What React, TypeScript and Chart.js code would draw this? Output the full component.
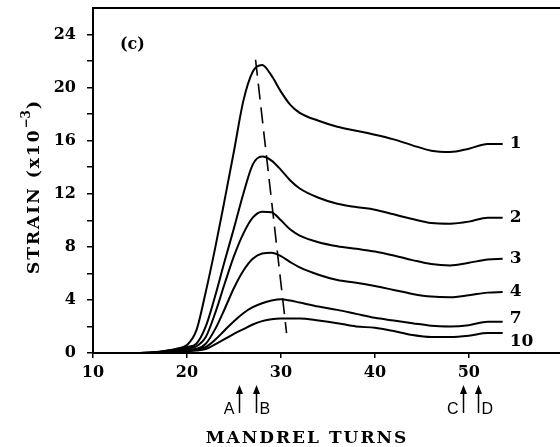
import { useEffect, useRef } from 'react';
import { Chart, registerables } from 'chart.js';

Chart.register(...registerables);

// Mandrel turns (x) sample grid shared by all curves
const TURNS = [10, 15, 17, 19, 20, 21, 22, 23, 24, 25, 26, 27, 28, 29, 30, 31, 32, 34, 36, 38, 40, 42, 44, 46, 48, 50, 52, 53.6];

// Strain (x10^-3) for each gauge position
const STRAIN_1 = [0, 0, 0.1, 0.35, 0.6, 1.7, 4.6, 7.9, 11.5, 15.2, 19.0, 21.2, 21.7, 20.9, 19.7, 18.7, 18.1, 17.5, 17.05, 16.75, 16.45, 16.1, 15.65, 15.25, 15.15, 15.4, 15.75, 15.75];
const STRAIN_2 = [0, 0, 0.08, 0.3, 0.45, 0.7, 2.0, 4.3, 6.9, 9.4, 12.0, 14.2, 14.8, 14.5, 13.8, 13.0, 12.4, 11.7, 11.25, 11.0, 10.8, 10.45, 10.1, 9.8, 9.75, 9.9, 10.2, 10.2];
const STRAIN_3 = [0, 0, 0.06, 0.25, 0.35, 0.5, 1.2, 3.0, 5.2, 7.3, 9.0, 10.2, 10.65, 10.6, 10.0, 9.3, 8.85, 8.35, 8.05, 7.85, 7.65, 7.35, 7.0, 6.7, 6.6, 6.8, 7.05, 7.1];
const STRAIN_4 = [0, 0, 0.05, 0.2, 0.25, 0.3, 0.7, 1.8, 3.3, 4.9, 6.2, 7.1, 7.5, 7.55, 7.3, 6.85, 6.45, 5.9, 5.5, 5.3, 5.05, 4.75, 4.45, 4.25, 4.2, 4.35, 4.55, 4.6];
const STRAIN_7 = [0, 0, 0.04, 0.15, 0.2, 0.25, 0.45, 1.0, 1.7, 2.4, 3.0, 3.45, 3.75, 3.95, 4.05, 3.95, 3.8, 3.5, 3.25, 2.95, 2.65, 2.45, 2.25, 2.05, 2.0, 2.1, 2.35, 2.35];
const STRAIN_10 = [0, 0, 0.03, 0.1, 0.15, 0.18, 0.3, 0.65, 1.05, 1.45, 1.8, 2.15, 2.4, 2.55, 2.6, 2.6, 2.6, 2.45, 2.25, 2.0, 1.9, 1.65, 1.35, 1.2, 1.2, 1.3, 1.5, 1.5];

const CURVES = [STRAIN_1, STRAIN_2, STRAIN_3, STRAIN_4, STRAIN_7, STRAIN_10];
const CURVE_LABELS = ['1', '2', '3', '4', '7', '10'];

// dashed line through peaks
const PEAK_LINE_X = [27.3, 30.6];
const PEAK_LINE_Y = [22.1, 1.5];

const X_TICKS = [10, 20, 30, 40, 50];
const Y_TICKS = [0, 2, 4, 6, 8, 10, 12, 14, 16, 18, 20, 22, 24];
const Y_TICK_LABELS = ['0', '', '4', '', '8', '', '12', '', '16', '', '20', '', '24'];

const MARKER_LABELS = ['A', 'B', 'C', 'D'];
const MARKER_TURNS = [25.5, 27.4, 49.4, 51.0];

const PANEL_LABEL = '(c)';
const X_TITLE = 'MANDREL TURNS';
const Y_TITLE = 'STRAIN (x10';
const Y_TITLE_SUP = '\u22123';

const SERIF = "'DejaVu Serif', serif";
const SANS = "'Liberation Sans', Arial, sans-serif";

const annotate = {
  id: 'annotate',
  afterDraw(chart: any) {
    const ctx = chart.ctx as CanvasRenderingContext2D;
    const area = chart.chartArea;
    const xs = chart.scales.x;
    const ys = chart.scales.y;
    ctx.save();
    // top frame line
    ctx.strokeStyle = '#000';
    ctx.lineWidth = 2;
    ctx.beginPath();
    ctx.moveTo(area.left, area.top);
    ctx.lineTo(area.right, area.top);
    ctx.stroke();

    // curve labels
    ctx.fillStyle = '#000';
    ctx.font = `bold 17px ${SERIF}`;
    ctx.textAlign = 'left';
    ctx.textBaseline = 'middle';
    const dy = [0, 0, 0, 0, -3, 8];
    CURVES.forEach((c, i) => {
      const px = xs.getPixelForValue(TURNS[TURNS.length - 1]);
      const py = ys.getPixelForValue(c[c.length - 1]);
      ctx.fillText(CURVE_LABELS[i], px + 7, py + dy[i]);
    });

    // panel label
    ctx.font = `bold 16px ${SERIF}`;
    ctx.fillText(PANEL_LABEL, area.left + 27, area.top + 37);

    // arrows
    const tipY = area.bottom + 32;
    const baseY = area.bottom + 60;
    MARKER_TURNS.forEach((t, i) => {
      const px = Math.round(xs.getPixelForValue(t)) + 0.5;
      ctx.lineWidth = 1.5;
      ctx.beginPath();
      ctx.moveTo(px, baseY);
      ctx.lineTo(px, tipY + 6);
      ctx.stroke();
      ctx.beginPath();
      ctx.moveTo(px, tipY);
      ctx.lineTo(px - 3.5, tipY + 9);
      ctx.lineTo(px + 3.5, tipY + 9);
      ctx.closePath();
      ctx.fill();
      ctx.font = `16px ${SANS}`;
      ctx.textBaseline = 'alphabetic';
      const left = i % 2 === 0;
      ctx.textAlign = left ? 'right' : 'left';
      ctx.fillText(MARKER_LABELS[i], left ? px - 5 : px + 3, baseY + 1);
    });

    // x title
    ctx.font = `bold 17px ${SERIF}`;
    (ctx as any).letterSpacing = '2px';
    ctx.textAlign = 'center';
    ctx.textBaseline = 'alphabetic';
    ctx.fillText(X_TITLE, 307, area.bottom + 90);

    // y title (rotated)
    ctx.save();
    ctx.translate(39, 187);
    ctx.rotate(-Math.PI / 2);
    (ctx as any).letterSpacing = '2px';
    ctx.font = `bold 17px ${SERIF}`;
    const w1 = ctx.measureText(Y_TITLE).width;
    ctx.font = `bold 12px ${SERIF}`;
    (ctx as any).letterSpacing = '0px';
    const wSup = ctx.measureText(Y_TITLE_SUP).width;
    ctx.font = `bold 17px ${SERIF}`;
    const wClose = ctx.measureText(')').width;
    const total = w1 + wSup + wClose + 2;
    const start = -total / 2;
    ctx.textAlign = 'left';
    (ctx as any).letterSpacing = '2px';
    ctx.fillText(Y_TITLE, start, 0);
    (ctx as any).letterSpacing = '0px';
    ctx.font = `bold 12px ${SERIF}`;
    ctx.fillText(Y_TITLE_SUP, start + w1, -9);
    ctx.font = `bold 17px ${SERIF}`;
    ctx.fillText(')', start + w1 + wSup + 1, 0);
    ctx.restore();

    ctx.restore();
  },
};

export default function App() {
  const ref = useRef<HTMLCanvasElement | null>(null);
  useEffect(() => {
    if (!ref.current) return;
    const datasets: any[] = CURVES.map((c, i) => ({
      label: CURVE_LABELS[i],
      data: TURNS.map((t, j) => ({ x: t, y: c[j] })),
      borderColor: '#000',
      borderWidth: 2,
      pointRadius: 0,
      cubicInterpolationMode: 'monotone',
      fill: false,
    }));
    datasets.push({
      label: 'peak',
      data: PEAK_LINE_X.map((x, j) => ({ x, y: PEAK_LINE_Y[j] })),
      borderColor: '#000',
      borderWidth: 1.6,
      borderDash: [16, 8],
      pointRadius: 0,
      fill: false,
    });
    const chart = new Chart(ref.current, {
      type: 'line',
      data: { datasets },
      plugins: [annotate],
      options: {
        animation: false,
        responsive: false,
        devicePixelRatio: 1,
        layout: { padding: { top: 8, right: 0, left: 0, bottom: 0 } },
        plugins: { legend: { display: false }, tooltip: { enabled: false } },
        scales: {
          x: {
            type: 'linear',
            min: 10,
            max: 59.7,
            afterBuildTicks: (s: any) => {
              s.ticks = X_TICKS.map((v) => ({ value: v }));
            },
            afterFit: (s: any) => {
              s.height = 94;
              s.paddingLeft = 0;
              s.paddingRight = 0;
            },
            ticks: {
              autoSkip: false,
              maxRotation: 0,
              color: '#000',
              padding: 5,
              font: { family: SERIF, weight: 'bold', size: 16 },
              callback: (v: any) => String(v),
            },
            grid: { drawOnChartArea: false, drawTicks: true, tickLength: 5, color: '#000', lineWidth: 1.5 },
            border: { display: true, color: '#000', width: 2 },
          },
          y: {
            type: 'linear',
            min: 0,
            max: 26,
            afterBuildTicks: (s: any) => {
              s.ticks = Y_TICKS.map((v) => ({ value: v }));
            },
            afterFit: (s: any) => {
              s.width = 93;
              s.paddingTop = 0;
              s.paddingBottom = 0;
            },
            ticks: {
              autoSkip: false,
              color: '#000',
              padding: 11,
              font: { family: SERIF, weight: 'bold', size: 16 },
              callback: (v: any) => {
                const k = Y_TICKS.indexOf(Number(v));
                return k >= 0 ? Y_TICK_LABELS[k] : '';
              },
            },
            grid: { drawOnChartArea: false, drawTicks: true, tickLength: 6, color: '#000', lineWidth: 1.5 },
            border: { display: true, color: '#000', width: 2 },
          },
        },
      } as any,
    });
    return () => chart.destroy();
  }, []);
  return (
    <div style={{ position: 'absolute', left: 0, top: 0, width: 560, height: 447, background: '#fff' }}>
      <canvas ref={ref} width={560} height={447} style={{ display: 'block' }} />
    </div>
  );
}
